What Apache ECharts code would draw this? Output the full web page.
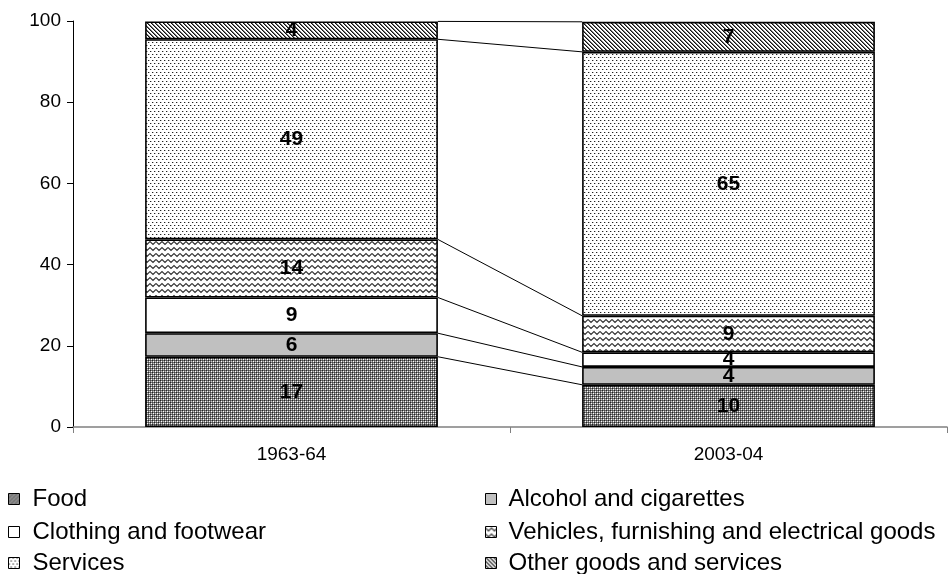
<!DOCTYPE html>
<html>
<head>
<meta charset="utf-8">
<script src="https://cdn.jsdelivr.net/npm/echarts@6/dist/echarts.min.js"></script>
<style>
    html, body { margin: 0; padding: 0; background: #fff; }
    #chart { width: 949px; height: 574px; }
</style>
</head>
<body>
<div id="chart"></div>
<script>
// periods on the x axis
var periods = ["1963-64", "2003-04"];
// share of spending (%), one array per category
var food = [17.3, 10.4];
var alcohol = [5.8, 4.4];
var clothing = [8.8, 3.6];
var vehicles = [14.3, 9.0];
var services = [49.3, 65.0];
var other = [4.4, 7.4];
var yTicks = [0, 20, 40, 60, 80, 100];

var names = [
    "Food",
    "Alcohol and cigarettes",
    "Clothing and footwear",
    "Vehicles, furnishing and electrical goods",
    "Services",
    "Other goods and services"
];
var values = [food, alcohol, clothing, vehicles, services, other];

// small canvas tiles used as fill patterns
function tile(w, h, draw) {
    var c = document.createElement("canvas");
    c.width = w;
    c.height = h;
    var ctx = c.getContext("2d");
    ctx.fillStyle = "#fff";
    ctx.fillRect(0, 0, w, h);
    draw(ctx);
    return { image: c, repeat: "repeat" };
}
function px(ctx, x, y, col) {
    ctx.fillStyle = col;
    ctx.fillRect(x, y, 1, 1);
}

var foodPat = tile(4, 4, function(ctx) {
    var g = [
        ["#222", "#777", "#444", "#777"],
        ["#777", "#fff", "#777", "#ccc"],
        ["#444", "#777", "#222", "#777"],
        ["#777", "#ccc", "#777", "#fff"]
    ];
    for (var y = 0; y < 4; y++) {
        for (var x = 0; x < 4; x++) px(ctx, x, y, g[y][x]);
    }
});
var wavePat = tile(12, 6, function(ctx) {
    ctx.strokeStyle = "#333";
    ctx.lineWidth = 1.1;
    ctx.beginPath();
    ctx.moveTo(0, 1.5);
    ctx.lineTo(3, 4.5);
    ctx.lineTo(6, 1.5);
    ctx.lineTo(9, 4.5);
    ctx.lineTo(12, 1.5);
    ctx.stroke();
});
var dotPat = tile(4, 6, function(ctx) {
    px(ctx, 0, 0, "#222");
    px(ctx, 2, 3, "#222");
    px(ctx, 1, 0, "#bbb");
    px(ctx, 3, 3, "#bbb");
});
var diagPat = tile(4, 4, function(ctx) {
    for (var i = 0; i < 4; i++) {
        px(ctx, i, i, "#111");
        px(ctx, (i + 1) % 4, i, "#777");
    }
});
var fills = [foodPat, "#c0c0c0", "#ffffff", wavePat, dotPat, diagPat];

var font = "'Liberation Sans', Arial, sans-serif";
var barWidthRatio = 0.67;

// cumulative tops for the connecting lines
var tops = [];
var run = [0, 0];
for (var s = 0; s < values.length; s++) {
    run = [run[0] + values[s][0], run[1] + values[s][1]];
    tops.push([0, run[0], run[1]]);
}

var series = names.map(function(n, i) {
    return {
        name: n,
        type: "bar",
        stack: "total",
        barWidth: barWidthRatio * 100 + "%",
        data: values[i],
        itemStyle: { color: fills[i], borderColor: "#000", borderWidth: 1.6 },
        label: {
            show: true,
            position: "inside",
            color: "#000",
            fontFamily: font,
            fontWeight: "bold",
            fontSize: 21,
            formatter: function(p) { return Math.round(p.value); }
        }
    };
});

series.push({
    type: "custom",
    silent: true,
    data: tops,
    encode: { x: 0, y: 1 },
    renderItem: function(params, api) {
        var a = api.coord([0, api.value(1)]);
        var b = api.coord([1, api.value(2)]);
        var half = api.size([1, 0])[0] * barWidthRatio / 2;
        return {
            type: "line",
            shape: { x1: a[0] + half, y1: a[1], x2: b[0] - half, y2: b[1] },
            style: { stroke: "#000", lineWidth: 1 }
        };
    }
});

// legend: two columns of three rows, one legend box per item
var legendCols = [8, 485];
var legendPad = [8, 7];
var legendRows = [486, 519, 550];
var legends = names.map(function(n, i) {
    return {
        left: legendCols[i % 2],
        top: legendRows[Math.floor(i / 2)],
        data: [n],
        icon: "rect",
        itemWidth: 11,
        itemHeight: 11,
        padding: 0,
        selectedMode: false,
        itemStyle: { borderColor: "#000", borderWidth: 1 },
        textStyle: {
            fontFamily: font,
            fontSize: 24,
            color: "#000",
            lineHeight: 26,
            padding: [0, 0, 0, legendPad[i % 2]]
        }
    };
});

var chart = echarts.init(document.getElementById("chart"));
chart.setOption({
    animation: false,
    backgroundColor: "#fff",
    grid: { left: 73, right: 2, top: 21, bottom: 147 },
    legend: legends,
    xAxis: {
        type: "category",
        data: periods,
        axisLine: { lineStyle: { color: "#808080", width: 1.5 } },
        axisTick: { show: true, length: 6, lineStyle: { color: "#808080" } },
        axisLabel: { color: "#000", fontFamily: font, fontSize: 19, margin: 18 }
    },
    yAxis: {
        type: "value",
        min: yTicks[0],
        max: yTicks[yTicks.length - 1],
        interval: yTicks[1] - yTicks[0],
        splitLine: { show: false },
        axisLine: { show: true, lineStyle: { color: "#000", width: 1 } },
        axisTick: { show: true, length: 6, lineStyle: { color: "#000" } },
        axisLabel: { color: "#000", fontFamily: font, fontSize: 19, margin: 12 }
    },
    series: series
});
</script>
</body>
</html>
